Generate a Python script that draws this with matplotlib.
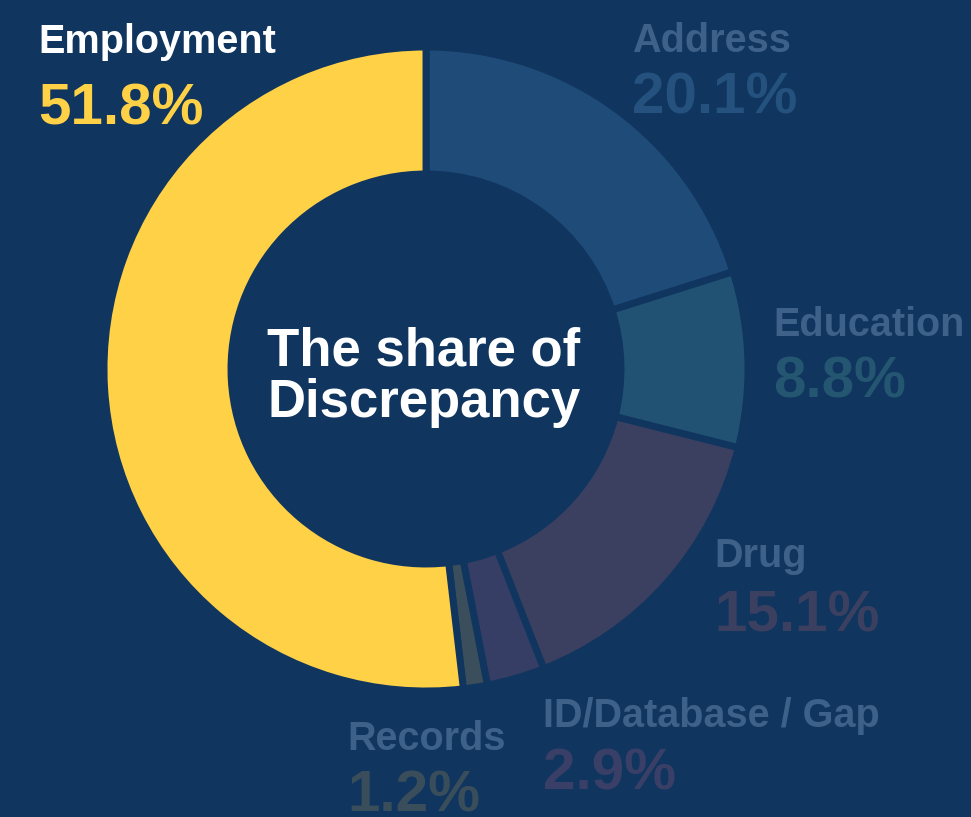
import matplotlib.pyplot as plt

plt.rcParams["font.family"] = ["Liberation Sans", "DejaVu Sans"]

# Discrepancy share by category (clockwise from 12 o'clock)
categories = ["Address", "Education", "Drug", "ID/Database / Gap", "Records", "Employment"]
shares = [20.1, 8.8, 15.1, 2.9, 1.2, 51.8]
wedge_colors = ["#1f4b79", "#225273", "#3b4060", "#363e66", "#3a4e5c", "#ffd147"]
pct_colors = ["#24517d", "#245571", "#3b4060", "#393f66", "#3a4d5a", "#ffd147"]
name_colors = ["#3e6189", "#3e6189", "#3e6189", "#3e6189", "#3e6189", "#ffffff"]

# label anchor (left x, baseline of name, baseline of percent) in pixels from the top
label_pos = [
    (632, 52, 113),
    (773, 336, 397),
    (714, 567, 632),
    (543, 727, 790),
    (347, 750, 811),
    (38, 53, 124),
]

bg = "#10355f"
W, H = 971, 817

fig = plt.figure(figsize=(W / 100, H / 100), dpi=100, facecolor=bg)
ax = fig.add_axes([0, 0, 1, 1])
ax.set_facecolor(bg)

ax.pie(shares, colors=wedge_colors, startangle=90, counterclock=False,
       center=(426, H - 369), radius=322,
       wedgeprops=dict(width=127, edgecolor=bg, linewidth=5))

ax.set_xlim(0, W)
ax.set_ylim(0, H)
ax.axis("off")

for name, share, nc, pc, (x, yn, yp) in zip(categories, shares, name_colors, pct_colors, label_pos):
    ax.text(x, H - yn, name, color=nc, fontsize=28.5, fontweight="bold", va="baseline", ha="left")
    ax.text(x, H - yp, f"{share}%", color=pc, fontsize=42, fontweight="bold", va="baseline", ha="left")

ax.text(424, H - 377, "The share of\nDiscrepancy", color="white", fontsize=38, fontweight="bold",
        ha="center", va="center", linespacing=1.05)

fig.savefig("out.png", dpi=100, facecolor=bg)
